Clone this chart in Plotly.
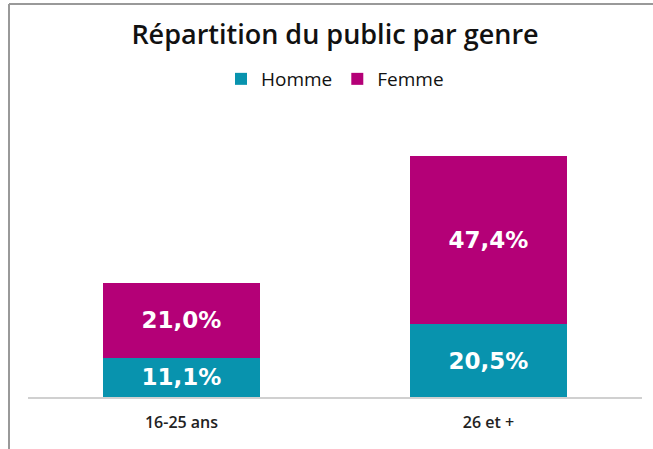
import plotly.graph_objects as go

categories = ["16-25 ans", "26 et +"]
homme = [11.1, 20.5]
femme = [21.0, 47.4]
series_names = ["Homme", "Femme"]

W, H = 653, 449
L, R, T, B = 28, 11, 120, 52
pw, ph = W - L - R, H - T - B

def px_x(x):
    return (x - L) / pw

def px_y(y):
    return (H - B - y) / ph

def fmt(v):
    return f"{v:.1f}%".replace(".", ",")

FONT = "Open Sans"

fig = go.Figure()
for name, vals, col in [(series_names[0], homme, "#0893AE"), (series_names[1], femme, "#B40077")]:
    fig.add_trace(go.Bar(
        x=categories, y=vals, name=name,
        marker=dict(color=col, line=dict(width=0)),
        text=[fmt(v) for v in vals],
        textposition="inside", insidetextanchor="middle",
        textfont=dict(family="DejaVu Sans", size=23, color="white", weight="bold"),
        hoverinfo="skip",
    ))

fig.update_layout(
    barmode="stack",
    bargap=0.49,
    width=W, height=H,
    margin=dict(l=L, r=R, t=T, b=B),
    paper_bgcolor="white", plot_bgcolor="white",
    title=dict(text="Répartition du public par genre", x=0.5, xref="paper",
               y=1 - 35 / H, yanchor="middle",
               font=dict(family=FONT, size=27, color="#111", weight=600)),
    legend=dict(orientation="h", x=0.5, xanchor="center", xref="paper",
                y=px_y(79), yanchor="middle",
                font=dict(family=FONT, size=19, color="#111", weight=500),
                itemwidth=30, traceorder="normal"),
    xaxis=dict(showline=True, linecolor="#d0d0d0", linewidth=1.5,
               ticks="", ticklabelstandoff=10,
               tickfont=dict(family=FONT, size=16, color="#222", weight=600),
               showgrid=False, fixedrange=True),
    yaxis=dict(range=[0, ph / 3.55], visible=False, showgrid=False),
    uniformtext=dict(minsize=23, mode="show"),
    shapes=[
        dict(type="line", xref="paper", yref="paper", x0=px_x(9), x1=px_x(W), y0=px_y(4), y1=px_y(4),
             line=dict(color="#999999", width=2)),
        dict(type="line", xref="paper", yref="paper", x0=px_x(9), x1=px_x(9), y0=px_y(4), y1=px_y(H),
             line=dict(color="#999999", width=2)),
    ],
)

fig.write_html("out.html", config={"displayModeBar": False},
               post_script="document.body.style.margin='0';document.body.style.overflow='hidden';")
